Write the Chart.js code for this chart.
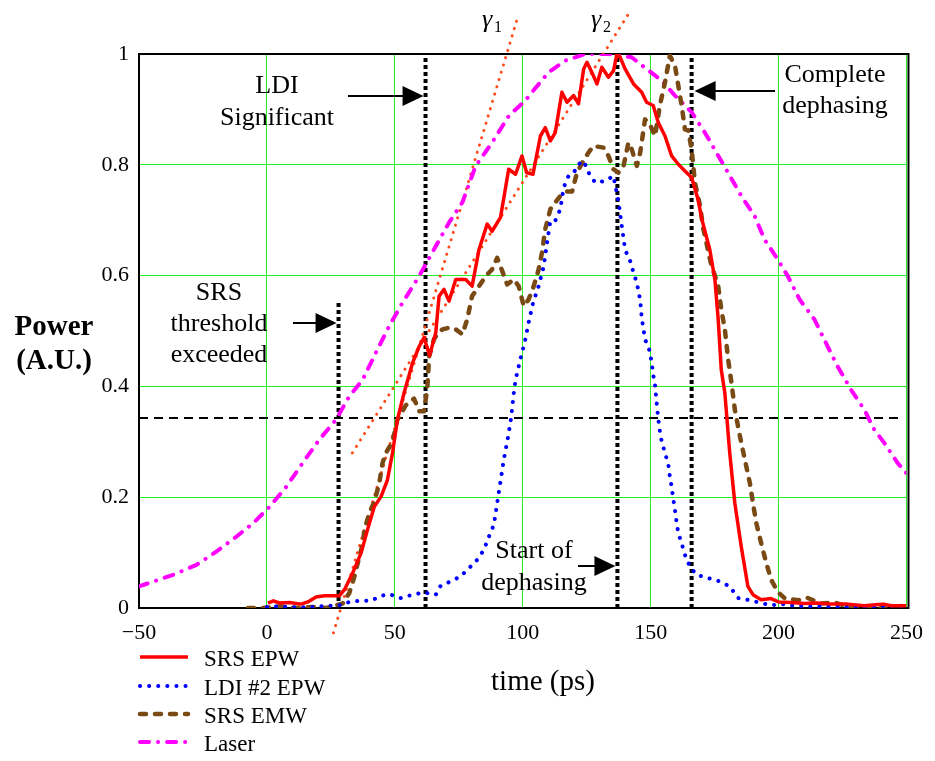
<!DOCTYPE html>
<html>
<head>
<meta charset="utf-8">
<title>SRS / LDI power vs time</title>
<script src="https://cdn.jsdelivr.net/npm/chart.js@4.4.0/dist/chart.umd.min.js"></script>
<style>
  html, body { margin: 0; padding: 0; background: #fff; }
  canvas { display: block; }
</style>
</head>
<body>
<canvas id="powerChart" width="935" height="761"></canvas>
<script>
// ---- data: [time (ps), power (A.U.)] ----
const srsEpw = [
  [0.4,0.009],[2.5,0.013],[4.9,0.009],[8.8,0.010],[13.4,0.007],[16,0.011],[19.2,0.020],[22.5,0.022],
  [28.3,0.022],[30.3,0.033],[33.5,0.063],[36.8,0.099],[39.3,0.141],[42,0.183],[44.6,0.201],[47.1,0.231],
  [49.1,0.280],[51,0.340],[53.6,0.388],[56.9,0.442],[59.5,0.472],[61.4,0.488],[63.6,0.456],[66,0.497],
  [67.3,0.563],[69.2,0.575],[71.2,0.554],[73.8,0.593],[77.7,0.593],[80.2,0.581],[82.9,0.647],[86.1,0.693],
  [88,0.680],[91.3,0.705],[94.5,0.792],[97.2,0.783],[99.7,0.816],[101.5,0.786],[104,0.783],[106.9,0.852],
  [108.8,0.867],[110.8,0.843],[112.7,0.858],[115.3,0.931],[117.3,0.913],[119.9,0.925],[121.8,0.910],
  [123.8,0.973],[125.1,0.985],[127,0.967],[129,0.946],[130.9,0.976],[133.5,0.958],[135.5,0.970],
  [136.8,1.000],[138.1,0.994],[140,0.973],[143.3,0.946],[146.5,0.931],[148.4,0.913],[151,0.907],
  [153,0.876],[155.6,0.852],[158.2,0.816],[160.8,0.801],[163.4,0.789],[166,0.777],[168.5,0.738],
  [170,0.702],[173.1,0.647],[175.1,0.593],[176.4,0.521],[177.6,0.430],[179,0.388],[180.9,0.280],
  [182.9,0.189],[185.4,0.111],[188,0.039],[190,0.024],[193.2,0.015],[197,0.017],[200,0.011],[205,0.010],
  [210,0.008],[215,0.009],[220.5,0.007],[227,0.007],[233.5,0.004],[238,0.006],[241,0.007],[244,0.004],[250,0.004]
];

const ldiEpw = [
  [0,0.002],[5,0.003],[11.5,0.001],[18.7,0.002],[23.1,0.004],[27.7,0.004],[31.6,0.010],[36.1,0.013],
  [40.6,0.013],[44.6,0.022],[47.8,0.025],[52.3,0.018],[56.9,0.024],[61.4,0.028],[66,0.024],[67.9,0.040],
  [71.8,0.048],[75.7,0.057],[79,0.072],[82.2,0.087],[84.8,0.105],[86.8,0.129],[88.7,0.150],[90,0.189],
  [91.3,0.228],[92.6,0.268],[94.3,0.310],[95.5,0.345],[96.5,0.388],[97.2,0.412],[99.1,0.450],[100.8,0.480],
  [102.5,0.520],[104,0.550],[106.2,0.581],[108.2,0.617],[109.5,0.659],[110.8,0.699],[112.7,0.699],
  [114.7,0.720],[116,0.759],[117.9,0.780],[119.9,0.785],[121.5,0.800],[123.8,0.807],[125.7,0.786],
  [128.3,0.768],[132.5,0.771],[135.4,0.780],[137.4,0.735],[138.7,0.690],[140,0.647],[142,0.626],
  [143.3,0.605],[144.6,0.587],[145.9,0.556],[146.5,0.524],[147.2,0.503],[147.8,0.485],[149.7,0.463],
  [150.4,0.442],[151,0.421],[151.7,0.403],[152.3,0.372],[153,0.340],[153.6,0.319],[154.3,0.301],
  [155.6,0.280],[156.9,0.259],[157.5,0.237],[158.2,0.219],[158.8,0.198],[159.5,0.177],[160.1,0.156],
  [160.8,0.135],[162.1,0.117],[163.4,0.096],[165.3,0.075],[167.9,0.060],[172.5,0.054],[177,0.048],
  [180.9,0.039],[184.2,0.018],[188.7,0.014],[193.2,0.009],[197,0.005],[201.7,0.007],[206.2,0.004],
  [212,0.003],[220.5,0.002],[228,0.003],[235,0.002],[242,0.004],[250,0.004]
];

const srsEmw = [
  [-7.4,0.000],[-1.6,0.000],[5,0.003],[11,0.000],[17.9,0.002],[23.1,0.000],[29.6,0.008],[32.2,0.027],
  [34.2,0.057],[35.5,0.081],[37.5,0.117],[38.1,0.141],[40,0.171],[42,0.192],[43.9,0.225],[45.2,0.262],
  [46.5,0.280],[49.1,0.300],[51,0.340],[54.3,0.366],[57.5,0.378],[59.5,0.355],[61.4,0.355],[62.7,0.397],
  [63.4,0.454],[65.3,0.485],[66,0.490],[68.6,0.503],[71.2,0.506],[73.8,0.503],[76.4,0.494],[78.3,0.521],
  [80.2,0.563],[82.9,0.581],[85.5,0.599],[88,0.611],[90,0.632],[92,0.608],[93.9,0.584],[96.5,0.593],
  [98.4,0.581],[100.4,0.545],[102.3,0.557],[104.3,0.581],[106.2,0.611],[107.5,0.641],[108.8,0.684],
  [110.8,0.720],[112.7,0.732],[114.7,0.744],[117.3,0.752],[119.3,0.752],[121.2,0.786],[123.8,0.808],
  [125.7,0.822],[127.6,0.834],[131.6,0.831],[133.5,0.816],[135.5,0.792],[137.4,0.786],[139.4,0.798],
  [141.3,0.840],[142.6,0.828],[144.6,0.798],[145.9,0.822],[147.8,0.882],[149.7,0.873],[151.7,0.852],
  [153.6,0.907],[155.6,0.949],[157.5,0.997],[159.5,0.979],[160.8,0.943],[162.1,0.907],[163.4,0.864],
  [164.7,0.862],[166,0.828],[167.3,0.768],[169.3,0.726],[170.6,0.684],[173.5,0.623],[176.4,0.581],
  [177.6,0.539],[179,0.503],[180.3,0.448],[181.6,0.406],[182.9,0.358],[184.9,0.310],[186.8,0.268],
  [188.8,0.225],[190,0.189],[191.3,0.153],[193.2,0.117],[195.2,0.081],[197.1,0.051],[199.7,0.029],
  [202.3,0.018],[207.5,0.014],[211.4,0.018],[216.6,0.008],[221.8,0.010],[228.3,0.001],[235,0.001],[241.6,0.000]
];

const laser = [
  [-50,0.039],[-36.6,0.060],[-27.5,0.078],[-19.7,0.102],[-11.9,0.129],[-5.4,0.153],[1.1,0.183],
  [7.6,0.219],[14,0.262],[20.5,0.304],[27,0.340],[32.2,0.382],[37.4,0.412],[42.6,0.461],[47.8,0.509],
  [53,0.551],[59.5,0.599],[66,0.653],[71.2,0.696],[76.4,0.732],[81.6,0.798],[88,0.840],[94.5,0.888],
  [101,0.916],[103.6,0.931],[110.1,0.967],[116.6,0.988],[124.4,1.000],[133.5,1.000],[142.6,0.994],
  [148.4,0.973],[154.3,0.952],[159.5,0.925],[166,0.895],[171.2,0.858],[175.7,0.822],[180.2,0.786],
  [185.4,0.744],[190.6,0.708],[194.5,0.665],[199.7,0.629],[203.6,0.599],[208.2,0.557],[214,0.521],
  [219.2,0.472],[223.1,0.436],[228.3,0.394],[233.5,0.358],[237.4,0.322],[241.3,0.298],[246.5,0.262],[250,0.243]
];

// growth-rate fits (gamma 1, gamma 2)
const gamma1Fit = [[26,-0.045],[98.4,1.072]];
const gamma2Fit = [[33.4,0.280],[141.3,1.072]];

// event markers: time and top of the marker line
const markerTimes = [28, 62, 137, 166];
const markerTops = [0.556, 1.0, 1.0, 0.993];
const thresholdLevel = 0.343;
const thresholdSpan = [-50, 247];

const seriesLabels = ['SRS EPW', 'LDI #2 EPW', 'SRS EMW', 'Laser'];
const xTickStep = 50;
const yTickStep = 0.2;

// ---- styles ----
const SERIF = '"Liberation Serif", "Times New Roman", serif';
const GRID_GREEN = '#22ee22';
const seriesStyles = [
  { color: '#ff0000', width: 3.5, dash: [], cap: 'butt' },
  { color: '#0000ff', width: 4, dash: [0.1, 9], cap: 'round' },
  { color: '#7a4a14', width: 4.5, dash: [6, 9], cap: 'round' },
  { color: '#ff00ff', width: 4, dash: [9, 9, 0.1, 9], cap: 'round' }
];
const GAMMA_COLOR = '#ff4a1c';

const toXY = pairs => pairs.map(p => ({ x: p[0], y: p[1] }));

const datasets = [];
[srsEpw, ldiEpw, srsEmw, laser].forEach((series, i) => {
  const s = seriesStyles[i];
  datasets.push({
    label: seriesLabels[i],
    data: toXY(series),
    borderColor: s.color,
    borderWidth: s.width,
    borderDash: s.dash,
    borderCapStyle: s.cap,
    borderJoinStyle: 'round',
    pointRadius: 0,
    tension: 0,
    fill: false
  });
});

[gamma1Fit, gamma2Fit].forEach(fit => {
  datasets.push({
    data: toXY(fit),
    borderColor: GAMMA_COLOR,
    borderWidth: 3,
    borderDash: [0.1, 7.5],
    borderCapStyle: 'round',
    pointRadius: 0,
    clip: false
  });
});

markerTimes.forEach((t, i) => {
  datasets.push({
    data: [{ x: t, y: 0 }, { x: t, y: markerTops[i] }],
    borderColor: '#000',
    borderWidth: 4,
    borderDash: [4, 3],
    pointRadius: 0,
    clip: false
  });
});

datasets.push({
  data: thresholdSpan.map(t => ({ x: t, y: thresholdLevel })),
  borderColor: '#000',
  borderWidth: 2,
  borderDash: [9, 6],
  pointRadius: 0
});

// ---- drawing helpers ----
function arrow(ctx, x0, x1, y) {
  const dir = Math.sign(x1 - x0);
  ctx.beginPath();
  ctx.moveTo(x0, y);
  ctx.lineTo(x1 - dir * 18, y);
  ctx.lineWidth = 2;
  ctx.stroke();
  ctx.beginPath();
  ctx.moveTo(x1, y);
  ctx.lineTo(x1 - dir * 21, y - 10);
  ctx.lineTo(x1 - dir * 21, y + 10);
  ctx.closePath();
  ctx.fill();
}

function centred(ctx, lines, cx, y0, step) {
  lines.forEach((txt, i) => ctx.fillText(txt, cx, y0 + i * step));
}

const overlay = {
  id: 'overlay',
  beforeDatasetsDraw(chart) {
    const { ctx, chartArea: a } = chart;
    ctx.save();
    ctx.strokeStyle = '#000';
    ctx.lineWidth = 2;
    ctx.strokeRect(a.left, a.top, a.right - a.left + 2, a.bottom - a.top);
    ctx.restore();
  },
  afterDraw(chart) {
    const { ctx } = chart;
    const xs = chart.scales.x;
    ctx.save();
    ctx.fillStyle = '#000';
    ctx.strokeStyle = '#000';

    // annotations
    ctx.font = '26px ' + SERIF;
    ctx.textAlign = 'center';
    ctx.textBaseline = 'alphabetic';
    centred(ctx, ['LDI', 'Significant'], 277, 93, 32);
    centred(ctx, ['SRS', 'threshold', 'exceeded'], 219, 300, 31);
    centred(ctx, ['Start of', 'dephasing'], 534, 558, 32);
    centred(ctx, ['Complete', 'dephasing'], 835, 82, 31);

    arrow(ctx, 348, xs.getPixelForValue(markerTimes[1]) - 2, 96);
    arrow(ctx, 293, xs.getPixelForValue(markerTimes[0]) - 2, 323);
    arrow(ctx, 578, xs.getPixelForValue(markerTimes[2]) - 2, 566);
    arrow(ctx, 775, xs.getPixelForValue(markerTimes[3]) + 3, 91);

    // gamma labels
    ctx.textAlign = 'left';
    ctx.font = 'italic 26px ' + SERIF;
    ctx.fillText('\u03B3', 482, 27);
    ctx.fillText('\u03B3', 591, 27);
    ctx.font = '16px ' + SERIF;
    ctx.fillText('1', 494, 32);
    ctx.fillText('2', 603, 32);

    // axis titles
    ctx.textAlign = 'center';
    ctx.font = '29px ' + SERIF;
    ctx.fillText('time (ps)', 543, 690);
    ctx.font = 'bold 29px ' + SERIF;
    ctx.fillText('Power', 54, 335);
    ctx.fillText('(A.U.)', 54, 369);

    // legend
    const rows = [657, 686, 714, 742];
    ctx.textAlign = 'left';
    ctx.textBaseline = 'middle';
    ctx.font = '23px ' + SERIF;
    seriesStyles.forEach((s, i) => {
      ctx.beginPath();
      ctx.setLineDash(s.dash);
      ctx.lineCap = s.cap;
      ctx.lineWidth = s.width;
      ctx.strokeStyle = s.color;
      ctx.moveTo(140, rows[i]);
      ctx.lineTo(188, rows[i]);
      ctx.stroke();
      ctx.setLineDash([]);
      ctx.fillText(seriesLabels[i], 204, rows[i] + 3);
    });
    ctx.restore();
  }
};

new Chart(document.getElementById('powerChart'), {
  type: 'line',
  data: { datasets: datasets },
  options: {
    responsive: false,
    animation: false,
    devicePixelRatio: 1,
    layout: { padding: { top: 54, right: 26, left: 0, bottom: 0 } },
    plugins: { legend: { display: false }, tooltip: { enabled: false } },
    scales: {
      x: {
        type: 'linear',
        min: -50,
        max: 250,
        afterFit: scale => { scale.height = 153; },
        border: { display: false },
        grid: { color: GRID_GREEN, lineWidth: 1, drawTicks: false },
        ticks: {
          stepSize: xTickStep,
          padding: 12,
          maxRotation: 0,
          autoSkip: false,
          color: '#000',
          font: { family: SERIF, size: 22 },
          callback: v => (v < 0 ? '\u2212' + Math.abs(v) : String(v))
        }
      },
      y: {
        type: 'linear',
        min: 0,
        max: 1,
        afterFit: scale => { scale.width = 139; },
        border: { display: false },
        grid: { color: GRID_GREEN, lineWidth: 1, drawTicks: false },
        ticks: {
          stepSize: yTickStep,
          padding: 10,
          color: '#000',
          font: { family: SERIF, size: 22 },
          callback: v => String(Math.round(v * 10) / 10)
        }
      }
    }
  },
  plugins: [overlay]
});
</script>
</body>
</html>
